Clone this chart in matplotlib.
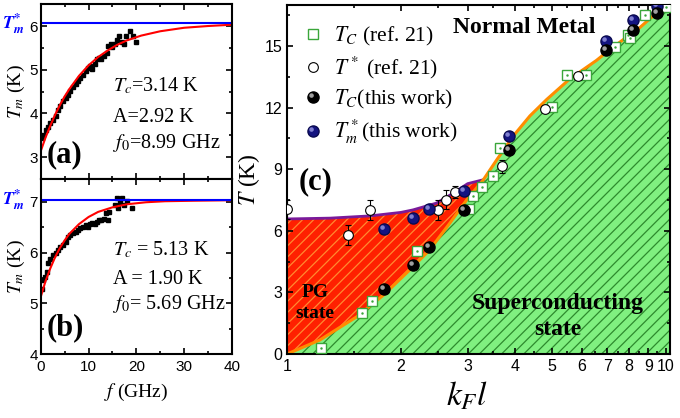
import numpy as np
import matplotlib
matplotlib.use("Agg")
import matplotlib.pyplot as plt
from matplotlib.lines import Line2D
from matplotlib.path import Path
from matplotlib.ticker import MultipleLocator, FixedLocator, NullFormatter

plt.rcParams['font.family'] = ['Liberation Serif', 'DejaVu Serif']
plt.rcParams['mathtext.fontset'] = 'stix'
plt.rcParams['hatch.linewidth'] = 0.9

# ---- panel (a): Tm vs f ----
fa = [0.35, 0.49, 1.05, 1.5, 2.0, 2.6, 3.1, 3.6, 4.1, 4.7, 5.2, 5.7, 6.2, 6.8, 7.3,
      7.8, 8.3, 8.9, 9.4, 9.9, 10.4, 10.8, 11.3, 11.7, 12.2, 12.7, 13.2, 13.8, 14.1,
      14.6, 15.0, 15.5, 16.0, 16.4, 16.9, 17.4, 17.9, 18.6, 19.3, 19.9]
Ta = [3.43, 3.5, 3.61, 3.69, 3.77, 3.84, 3.95, 4.07, 4.18, 4.28, 4.36, 4.43, 4.51, 4.6, 4.67,
      4.75, 4.81, 4.89, 4.98, 5.05, 5.09, 5.02, 5.13, 5.24, 5.27, 5.24, 5.32, 5.39, 5.55,
      5.58, 5.51, 5.58, 5.67, 5.77, 5.64, 5.58, 5.77, 5.89, 5.77, 5.64]
fit_fa = [0, 1, 2, 3, 4, 5, 6, 8, 10, 12, 14, 16, 18, 21, 25, 30, 35, 40]
fit_Ta = [3.14, 3.45, 3.72, 3.97, 4.19, 4.39, 4.56, 4.86, 5.10, 5.29, 5.44, 5.57, 5.67,
          5.78, 5.88, 5.96, 6.00, 6.03]
tstar_a = 6.06

# ---- panel (b) ----
fb = [0.35, 0.5, 0.84, 1.2, 1.5, 2.0, 2.6, 3.1, 3.6, 4.1, 4.7, 5.2, 5.7, 6.2, 6.8, 7.3,
      7.8, 8.3, 8.9, 9.4, 9.9, 10.4, 10.8, 11.3, 11.7, 12.2, 12.7, 13.2, 13.6, 14.1,
      14.3, 15.5, 15.9, 16.1, 16.5, 17.0, 17.4, 18.0, 19.0]
Tb = [5.29, 5.46, 5.52, 5.62, 5.79, 5.87, 5.95, 6.0, 6.05, 6.1, 6.15, 6.21, 6.3, 6.35,
      6.38, 6.41, 6.45, 6.48, 6.51, 6.55, 6.51, 6.56, 6.59, 6.56, 6.61, 6.64, 6.64, 6.67,
      6.78, 6.64, 6.8, 6.94, 7.08, 6.88, 7.0, 7.08, 6.94, 7.02, 6.88]
fit_fb = [0, 1, 2, 3, 4, 5, 6, 8, 10, 12, 15, 18, 22, 26, 32, 40]
fit_Tb = [5.13, 5.44, 5.69, 5.91, 6.09, 6.24, 6.37, 6.56, 6.70, 6.80, 6.89, 6.95, 6.99,
          7.01, 7.02, 7.03]
tstar_b = 7.03

# ---- panel (c): phase diagram ----
tc_line_k = [1.0, 1.22, 1.53, 1.80, 2.11, 2.38, 2.69, 2.98, 3.30, 3.58, 3.95, 4.38, 4.85,
             5.58, 6.56, 7.26, 8.54, 9.84, 10.25]
tc_line_T = [0.0, 0.68, 1.82, 2.88, 4.1, 5.07, 6.37, 7.5, 8.49, 9.46, 10.6, 11.6, 12.4,
             13.4, 14.3, 14.95, 15.9, 16.9, 17.2]
ts_line_k = [1.0, 1.3, 1.66, 2.0, 2.15, 2.48, 2.75, 3.0, 3.30]
ts_line_T = [6.58, 6.62, 6.73, 6.9, 7.02, 7.35, 7.84, 8.3, 8.49]

sq_k = [1.227, 1.58, 1.68, 2.21, 3.03, 3.10, 3.28, 3.50, 3.65, 5.02, 5.50, 6.14, 7.34,
        7.96, 8.05, 8.8, 10.0]
sq_T = [0.31, 1.98, 2.6, 5.02, 7.05, 7.7, 8.16, 8.65, 10.03, 12.05, 13.6, 13.6, 14.95,
        15.55, 15.4, 16.5, 16.9]
oc_k = [1.0, 1.45, 1.655, 2.51, 2.63, 2.77, 3.69, 4.80, 5.87]
oc_T = [7.05, 5.8, 7.02, 7.02, 7.52, 7.9, 9.14, 11.95, 13.56]
oc_err = [0.45, 0.5, 0.5, 0.5, 0.45, 0.3, 0.3, 0.0, 0.0]
tw_k = [1.806, 2.15, 2.375, 2.93, 3.86, 6.95, 8.2, 9.51]
tw_Tc = [3.15, 4.32, 5.19, 7.0, 9.93, 14.8, 15.77, 16.6]
tw_Tm = [6.07, 6.62, 7.08, 7.92, 10.64, 15.23, 16.26, 16.95]

# highlight marker for the shaded balls
hl = Path.circle(center=(-0.35, 0.35), radius=0.28)
hl_path = Path.make_compound_path(Path([(-1, -1), (1, 1)], [Path.MOVETO, Path.MOVETO]), hl)

fig = plt.figure(figsize=(6.8, 4.18), dpi=100)
axa = fig.add_axes([0.060, 0.572, 0.281, 0.418])
axb = fig.add_axes([0.060, 0.153, 0.281, 0.419])
axc = fig.add_axes([0.422, 0.153, 0.563, 0.835])

for ax in (axa, axb, axc):
    ax.tick_params(which='both', direction='in', top=True, right=True,
                   labelfontfamily='Liberation Sans', width=1.2)
    ax.tick_params(which='major', length=4.5)
    ax.tick_params(which='minor', length=2.5)
    for s in ax.spines.values():
        s.set_linewidth(1.5)

# (a)
axa.plot(fa, Ta, 's', color='black', ms=2.8)
axa.plot(fit_fa, fit_Ta, color='red', lw=1.5)
axa.axhline(tstar_a, color='blue', lw=1.5)
axa.set_xlim(0, 40)
axa.set_ylim(2.5, 6.5)
axa.xaxis.set_major_locator(MultipleLocator(10))
axa.xaxis.set_minor_locator(MultipleLocator(5))
axa.yaxis.set_major_locator(MultipleLocator(1))
axa.yaxis.set_minor_locator(MultipleLocator(0.5))
axa.tick_params(labelbottom=False, labelsize=11, pad=2)
axa.set_ylabel(r'$T_m$ (K)', fontsize=14, labelpad=2)
axa.text(-0.145, tstar_a, r'$\mathbfit{T}^{\mathbf{*}}_{\mathbfit{m}}$', color='blue',
         fontsize=13, transform=axa.get_yaxis_transform(), ha='center', va='center')
axa.text(0.377, 0.531, r'$T_c$=3.14 K', transform=axa.transAxes, fontsize=14.5, va='center')
axa.text(0.377, 0.354, 'A=2.92 K', transform=axa.transAxes, fontsize=14.5, va='center')
axa.text(0.377, 0.206, r'$f_{\mathit{0}}$=8.99 GHz', transform=axa.transAxes, fontsize=14.5, va='center')
axa.text(0.03, 0.137, '(a)', transform=axa.transAxes, fontsize=22, fontweight='bold', va='center')

# (b)
axb.plot(fb, Tb, 's', color='black', ms=2.8)
axb.plot(fit_fb, fit_Tb, color='red', lw=1.5)
axb.axhline(tstar_b, color='blue', lw=1.5)
axb.set_xlim(0, 40)
axb.set_ylim(4, 7.45)
axb.xaxis.set_major_locator(MultipleLocator(10))
axb.xaxis.set_minor_locator(MultipleLocator(5))
axb.yaxis.set_major_locator(MultipleLocator(1))
axb.yaxis.set_minor_locator(MultipleLocator(0.5))
axb.tick_params(labelsize=11, pad=2)
axb.tick_params(axis='x', pad=4)
axb.set_ylabel(r'$T_m$ (K)', fontsize=14, labelpad=2)
axb.set_xlabel(r'$f$ (GHz)', fontsize=14, labelpad=6)
axb.text(-0.145, tstar_b, r'$\mathbfit{T}^{\mathbf{*}}_{\mathbfit{m}}$', color='blue',
         fontsize=13, transform=axb.get_yaxis_transform(), ha='center', va='center')
axb.text(0.377, 0.594, r'$T_c$ = 5.13 K', transform=axb.transAxes, fontsize=14.5, va='center')
axb.text(0.377, 0.423, 'A = 1.90 K', transform=axb.transAxes, fontsize=14.5, va='center')
axb.text(0.377, 0.286, r'$f_{\mathit{0}}$= 5.69 GHz', transform=axb.transAxes, fontsize=14.5, va='center')
axb.text(0.03, 0.149, '(b)', transform=axb.transAxes, fontsize=22, fontweight='bold', va='center')

# (c)
axc.set_xscale('log')
axc.fill_between(tc_line_k, 0, tc_line_T, facecolor='#80f080', edgecolor='#2e8a2e',
                 hatch='///', linewidth=0, zorder=1)
n = len(ts_line_k)
red_k = list(ts_line_k) + tc_line_k[:n][::-1]
red_T = list(ts_line_T) + tc_line_T[:n][::-1]
axc.fill(red_k, red_T, facecolor='#ff2000', edgecolor='#ff8a30', hatch='///',
         linewidth=0, zorder=1)
axc.plot(ts_line_k, ts_line_T, color='#7a1a9a', lw=2, zorder=2)
axc.plot(tc_line_k, tc_line_T, color='#ff8c00', lw=2.2, zorder=2)

axc.plot(sq_k, sq_T, 's', mfc='white', mec='#3aa63a', mew=1, ms=6.5, zorder=3)
axc.plot(sq_k, sq_T, '.', color='#3aa63a', ms=1.5, zorder=3)
axc.errorbar(oc_k, oc_T, yerr=oc_err, fmt='o', mfc='white', mec='black', mew=0.8,
             ms=7, ecolor='black', elinewidth=0.8, capsize=2.5, zorder=4)
axc.plot(oc_k, oc_T, '.', color='black', ms=1.5, zorder=4)
axc.plot(tw_k, tw_Tm, 'o', mfc='#141480', mec='#0a0a50', ms=8, zorder=5)
axc.plot(tw_k, tw_Tm, marker=hl_path, ls='none', color='#8080d0', ms=8, zorder=5)
axc.plot(tw_k, tw_Tc, 'o', mfc='black', mec='black', ms=8, zorder=6)
axc.plot(tw_k, tw_Tc, marker=hl_path, ls='none', color='#a0a0a0', ms=8, zorder=6)

axc.set_xlim(1, 10.25)
axc.set_ylim(0, 17)
axc.xaxis.set_major_locator(FixedLocator([1, 2, 3, 4, 5, 6, 7, 8, 9, 10]))
axc.set_xticklabels(['1', '2', '3', '4', '5', '6', '7', '8', '9', '10'])
axc.xaxis.set_minor_locator(FixedLocator([1.5, 2.5, 3.5, 4.5, 5.5, 6.5, 7.5, 8.5, 9.5]))
axc.xaxis.set_minor_formatter(NullFormatter())
axc.yaxis.set_major_locator(MultipleLocator(3))
axc.yaxis.set_minor_locator(MultipleLocator(1.5))
axc.tick_params(labelsize=11.5)
axc.set_ylabel(r'$T$ (K)', fontsize=17, labelpad=2)
axc.set_xlabel(r'$k_F l$', fontsize=24, labelpad=0)
axc.xaxis.set_label_coords(0.47, -0.075)

h_sq = Line2D([], [], ls='none', marker='s', mfc='white', mec='#3aa63a', mew=1, ms=6.5)
h_oc = Line2D([], [], ls='none', marker='o', mfc='white', mec='black', mew=0.8, ms=7)
h_bk = (Line2D([], [], ls='none', marker='o', mfc='black', mec='black', ms=8),
        Line2D([], [], ls='none', marker=hl_path, color='#a0a0a0', ms=8))
h_bl = (Line2D([], [], ls='none', marker='o', mfc='#141480', mec='#0a0a50', ms=8),
        Line2D([], [], ls='none', marker=hl_path, color='#8080d0', ms=8))
axc.legend([h_sq, h_oc, h_bk, h_bl],
           [r'$T_C$ (ref. 21)', r'$T^*$ (ref. 21)', r'$T_C$(this work)', r'$T_m^*$(this work)'],
           loc='upper left', bbox_to_anchor=(0.0, 0.985), frameon=False, fontsize=15.5,
           handlelength=1.0, handletextpad=0.5, labelspacing=0.32, borderaxespad=0.3)

axc.text(0.621, 0.937, 'Normal Metal', transform=axc.transAxes, fontsize=17,
         fontweight='bold', ha='center', va='center')
axc.text(0.03, 0.493, '(c)', transform=axc.transAxes, fontsize=22, fontweight='bold',
         va='center')
axc.text(0.073, 0.146, 'PG\nstate', transform=axc.transAxes, fontsize=14,
         fontweight='bold', ha='center', va='center', linespacing=1.25)
axc.text(0.708, 0.107, 'Superconducting\nstate', transform=axc.transAxes, fontsize=17,
         fontweight='bold', ha='center', va='center', linespacing=1.35)

fig.savefig('out.png', dpi=100)
